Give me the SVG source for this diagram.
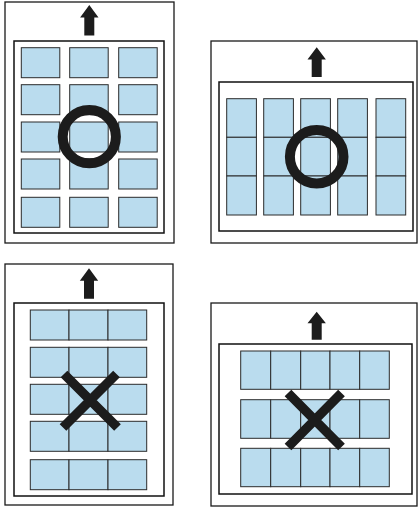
<svg xmlns="http://www.w3.org/2000/svg" xmlns:xlink="http://www.w3.org/1999/xlink" width="419" height="507" viewBox="0 0 419 507">
<style>
.sheet{fill:#fff;stroke:#1a1a1a;stroke-width:1.3}
.area{fill:#fff;stroke:#111;stroke-width:1.5}
.cell{fill:#badcee;stroke:#2b2b2b;stroke-width:1}
.ok{fill:none;stroke:#1c1c1c;stroke-width:10}
.no{fill:none;stroke:#1c1c1c;stroke-width:9.4;stroke-linecap:butt}
.arrow{fill:#1c1c1c}
</style>
<defs>
<path id="arr" class="arrow" d="M0,0 L9.2,12.5 L5,12.5 L5,30.5 L-5,30.5 L-5,12.5 L-9.2,12.5 Z"/>
</defs>
<rect width="419" height="507" fill="#fff"/>

<g id="panel-portrait-ok">
<rect class="sheet" x="5" y="2" width="169" height="241"/>
<use xlink:href="#arr" transform="translate(89.3,5)"/>
<rect class="area" x="14" y="41" width="150" height="192"/>
<g>
<rect class="cell" x="21.3" y="47.7" width="38.5" height="30"/>
<rect class="cell" x="69.7" y="47.7" width="38.5" height="30"/>
<rect class="cell" x="118.7" y="47.7" width="38.5" height="30"/>
<rect class="cell" x="21.3" y="84.7" width="38.5" height="30"/>
<rect class="cell" x="69.7" y="84.7" width="38.5" height="30"/>
<rect class="cell" x="118.7" y="84.7" width="38.5" height="30"/>
<rect class="cell" x="21.3" y="122" width="38.5" height="30"/>
<rect class="cell" x="69.7" y="122" width="38.5" height="30"/>
<rect class="cell" x="118.7" y="122" width="38.5" height="30"/>
<rect class="cell" x="21.3" y="159" width="38.5" height="30"/>
<rect class="cell" x="69.7" y="159" width="38.5" height="30"/>
<rect class="cell" x="118.7" y="159" width="38.5" height="30"/>
<rect class="cell" x="21.3" y="197.3" width="38.5" height="30"/>
<rect class="cell" x="69.7" y="197.3" width="38.5" height="30"/>
<rect class="cell" x="118.7" y="197.3" width="38.5" height="30"/>
</g>
<circle class="ok" cx="89.3" cy="136.7" r="26.6"/>
</g>

<g id="panel-landscape-ok">
<rect class="sheet" x="211" y="41" width="206" height="202"/>
<use xlink:href="#arr" transform="translate(316.7,47.3) scale(1,0.97)"/>
<rect class="area" x="219" y="82" width="194" height="149"/>
<g>
<rect class="cell" x="226.7" y="98.7" width="29.7" height="38.6"/>
<rect class="cell" x="263.7" y="98.7" width="29.7" height="38.6"/>
<rect class="cell" x="300.7" y="98.7" width="29.7" height="38.6"/>
<rect class="cell" x="337.7" y="98.7" width="29.7" height="38.6"/>
<rect class="cell" x="376" y="98.7" width="29.7" height="38.6"/>
<rect class="cell" x="226.7" y="137.3" width="29.7" height="38.7"/>
<rect class="cell" x="263.7" y="137.3" width="29.7" height="38.7"/>
<rect class="cell" x="300.7" y="137.3" width="29.7" height="38.7"/>
<rect class="cell" x="337.7" y="137.3" width="29.7" height="38.7"/>
<rect class="cell" x="376" y="137.3" width="29.7" height="38.7"/>
<rect class="cell" x="226.7" y="176" width="29.7" height="39"/>
<rect class="cell" x="263.7" y="176" width="29.7" height="39"/>
<rect class="cell" x="300.7" y="176" width="29.7" height="39"/>
<rect class="cell" x="337.7" y="176" width="29.7" height="39"/>
<rect class="cell" x="376" y="176" width="29.7" height="39"/>
</g>
<circle class="ok" cx="316.7" cy="156.7" r="26.8"/>
</g>

<g id="panel-portrait-no">
<rect class="sheet" x="5" y="264" width="168" height="241"/>
<use xlink:href="#arr" transform="translate(89,268.3)"/>
<rect class="area" x="14" y="303" width="150" height="193"/>
<g>
<rect class="cell" x="30.3" y="310" width="38.7" height="30"/>
<rect class="cell" x="69" y="310" width="39" height="30"/>
<rect class="cell" x="108" y="310" width="38.7" height="30"/>
<rect class="cell" x="30.3" y="347.3" width="38.7" height="30"/>
<rect class="cell" x="69" y="347.3" width="39" height="30"/>
<rect class="cell" x="108" y="347.3" width="38.7" height="30"/>
<rect class="cell" x="30.3" y="384.3" width="38.7" height="30"/>
<rect class="cell" x="69" y="384.3" width="39" height="30"/>
<rect class="cell" x="108" y="384.3" width="38.7" height="30"/>
<rect class="cell" x="30.3" y="421.3" width="38.7" height="30"/>
<rect class="cell" x="69" y="421.3" width="39" height="30"/>
<rect class="cell" x="108" y="421.3" width="38.7" height="30"/>
<rect class="cell" x="30.3" y="459.7" width="38.7" height="30"/>
<rect class="cell" x="69" y="459.7" width="39" height="30"/>
<rect class="cell" x="108" y="459.7" width="38.7" height="30"/>
</g>
<path class="no" d="M64,374 L117.5,427.5 M116.5,374 L63,427.5"/>
</g>

<g id="panel-landscape-no">
<rect class="sheet" x="211" y="303" width="206" height="203"/>
<use xlink:href="#arr" transform="translate(316.7,311.7) scale(1,0.92)"/>
<rect class="area" x="219" y="344" width="193" height="150"/>
<g>
<rect class="cell" x="240.7" y="351" width="30" height="38.3"/>
<rect class="cell" x="270.7" y="351" width="30" height="38.3"/>
<rect class="cell" x="300.7" y="351" width="29.3" height="38.3"/>
<rect class="cell" x="330" y="351" width="29.7" height="38.3"/>
<rect class="cell" x="359.7" y="351" width="29.6" height="38.3"/>
<rect class="cell" x="240.7" y="399.7" width="30" height="38.6"/>
<rect class="cell" x="270.7" y="399.7" width="30" height="38.6"/>
<rect class="cell" x="300.7" y="399.7" width="29.3" height="38.6"/>
<rect class="cell" x="330" y="399.7" width="29.7" height="38.6"/>
<rect class="cell" x="359.7" y="399.7" width="29.6" height="38.6"/>
<rect class="cell" x="240.7" y="448.3" width="30" height="38.4"/>
<rect class="cell" x="270.7" y="448.3" width="30" height="38.4"/>
<rect class="cell" x="300.7" y="448.3" width="29.3" height="38.4"/>
<rect class="cell" x="330" y="448.3" width="29.7" height="38.4"/>
<rect class="cell" x="359.7" y="448.3" width="29.6" height="38.4"/>
</g>
<path class="no" d="M288,393 L341.5,447 M341.5,393 L288,447"/>
</g>
</svg>
